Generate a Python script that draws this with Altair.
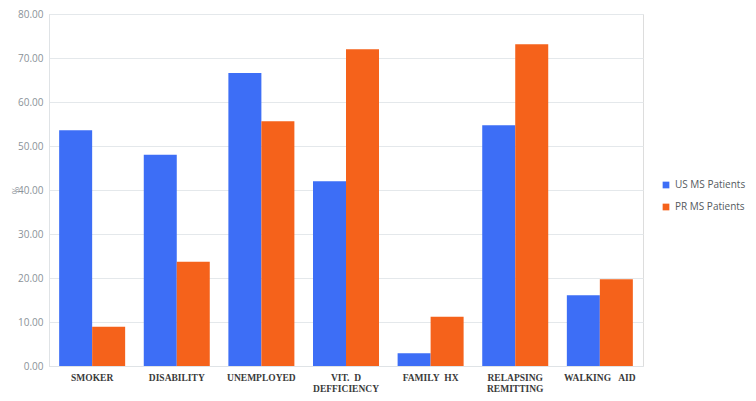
import altair as alt
import pandas as pd

categories = ["SMOKER", "DISABILITY", "UNEMPLOYED", "VIT.\u00a0\u00a0D|DEFFICIENCY",
              "FAMILY\u00a0\u00a0HX", "RELAPSING|REMITTING", "WALKING\u00a0\u00a0\u00a0AID"]
series = ["US MS Patients", "PR MS Patients"]
us_values = [53.6, 48.0, 66.6, 42.0, 2.9, 54.7, 16.1]
pr_values = [8.9, 23.7, 55.6, 72.0, 11.2, 73.1, 19.7]
colors = ["#3d6ef6", "#f5621b"]

rows = []
for c, u, p in zip(categories, us_values, pr_values):
    rows.append({"cat": c, "series": series[0], "value": u})
    rows.append({"cat": c, "series": series[1], "value": p})
df = pd.DataFrame(rows)

chart = alt.Chart(df).mark_bar().encode(
    x=alt.X("cat:N", sort=categories, title=None,
            scale=alt.Scale(paddingInner=0.22, paddingOuter=0.12),
            axis=alt.Axis(labelAngle=0, labelFont="Liberation Serif", labelFontWeight="bold",
                          labelFontSize=9.5, labelColor="#3a3a3a", labelPadding=6,
                          labelBaseline="top", labelLineHeight=11, labelLimit=200,
                          labelExpr="split(datum.label, '|')",
                          ticks=False, domainColor="#dfe3e6", grid=False)),
    xOffset=alt.XOffset("series:N", sort=series),
    y=alt.Y("value:Q", title="%",
            scale=alt.Scale(domain=[0, 80], nice=False),
            axis=alt.Axis(values=[0, 10, 20, 30, 40, 50, 60, 70, 80], format=".2f",
                          labelFont="Open Sans", labelFontSize=10, labelColor="#8a9299",
                          labelPadding=6, ticks=False, domainColor="#dfe3e6",
                          gridColor="#e4e8eb", titleFontSize=9, titleColor="#8a9299",
                          titleFont="Open Sans", titleFontWeight="normal",
                          titleX=-34, titleY=176, titleAngle=270,
                          titleAlign="center", titleBaseline="middle")),
    color=alt.Color("series:N", sort=series, title=None,
                    scale=alt.Scale(domain=series, range=colors),
                    legend=alt.Legend(orient="none", legendX=612, legendY=166,
                                      symbolType="square", symbolSize=45, symbolStrokeWidth=0,
                                      labelFont="Open Sans", labelFontSize=10, labelLimit=200,
                                      labelColor="#555a60", rowPadding=12, labelOffset=4)),
).properties(
    width=594, height=352,
    autosize=alt.AutoSizeParams(type="none"),
    padding={"left": 41, "top": 6, "right": 105, "bottom": 27},
).configure_view(stroke=None).configure(background="white")

chart.save("out.html", embed_options={"renderer": "svg", "actions": False})
